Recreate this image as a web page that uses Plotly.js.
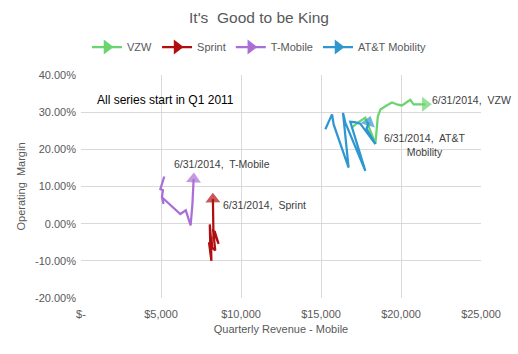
<!DOCTYPE html>
<html>
<head>
<meta charset="utf-8">
<script src="https://cdn.plot.ly/plotly-3.0.1.min.js"></script>
<style>html,body{margin:0;padding:0;background:#fff;}#chart{width:518px;height:354px;}</style>
</head>
<body>
<div id="chart"></div>
<script>
// Quarterly data, Q1 2011 .. Q2 2014 (revenue $M, operating margin)
const vzwRevenue = [16900, 17300, 17770, 18400, 18550, 18710, 19100, 19440, 19800, 20060, 20580, 20790, 21100, 21520];
const vzwMargin  = [0.258, 0.272, 0.285, 0.215, 0.288, 0.307, 0.318, 0.326, 0.320, 0.318, 0.333, 0.321, 0.321, 0.321];

const sprintRevenue = [8150, 8200, 8000, 8080, 8150, 8120, 8050, 8080, 8390, 8250, 8600, 8350, 8280, 8244];
const sprintMargin  = [-0.035, -0.065, -0.050, -0.080, -0.100, -0.040, -0.002, -0.060, -0.072, -0.015, -0.054, -0.020, -0.035, 0.066];

const tmoRevenue = [5206, 4960, 5120, 5060, 5160, 5080, 5070, 5100, 5060, 6206, 6550, 6850, 6960, 7040];
const tmoMargin  = [0.127, 0.093, 0.090, 0.071, 0.053, 0.070, 0.072, 0.068, 0.071, 0.026, 0.036, -0.005, 0.050, 0.120];

const attRevenue = [15270, 15690, 15790, 16725, 16375, 16450, 16520, 17770, 16830, 17100, 17456, 18400, 17850, 17975];
const attMargin  = [0.254, 0.294, 0.267, 0.151, 0.298, 0.285, 0.272, 0.142, 0.274, 0.273, 0.269, 0.214, 0.255, 0.273];

const seriesNames = ['VZW', 'Sprint', 'T-Mobile', 'AT&T Mobility'];
const seriesColors = ['#6ad46f', '#b00f0f', '#aa6fd6', '#2f97d0'];
const yTickVals = [-0.2, -0.1, 0, 0.1, 0.2, 0.3, 0.4];
const yTickText = ['-20.00%', '-10.00%', '0.00%', '10.00%', '20.00%', '30.00%', '40.00%'];
const xTickVals = [0, 5000, 10000, 15000, 20000, 25000];
const xTickText = ['$-', '$5,000', '$10,000', '$15,000', '$20,000', '$25,000'];

const data = [[vzwRevenue, vzwMargin], [sprintRevenue, sprintMargin], [tmoRevenue, tmoMargin], [attRevenue, attMargin]];

const traces = [];
data.forEach((d, i) => {
  const n = d[0].length;
  traces.push({
    x: d[0], y: d[1], type: 'scatter', mode: 'lines+markers', showlegend: false,
    line: {color: seriesColors[i], width: 2.25},
    marker: {
      color: seriesColors[i],
      symbol: d[0].map((_, k) => k === n - 1 ? 'triangle-up' : 'circle'),
      size: d[0].map((_, k) => k === n - 1 ? 13 : 0),
      angleref: 'previous',
      line: {width: 0}
    },
    hoverinfo: 'skip'
  });
});
// legend entries
seriesNames.forEach((name, i) => {
  traces.push({
    x: [null], y: [null], type: 'scatter', mode: 'lines+markers', name: name,
    line: {color: seriesColors[i], width: 2.25},
    marker: {color: seriesColors[i], symbol: 'triangle-right', size: 13}
  });
});

const labelFont = {family: 'Liberation Sans, Arial, sans-serif', size: 10.5, color: '#404040'};

const layout = {
  width: 518, height: 354,
  margin: {l: 81, r: 37, t: 75, b: 56},
  paper_bgcolor: '#ffffff', plot_bgcolor: '#ffffff',
  font: {family: 'Liberation Sans, Arial, sans-serif', color: '#595959', size: 11},
  title: {text: "It's  Good to be King", x: 0.5, xref: 'container', y: 1 - 18/354, yref: 'container', yanchor: 'middle',
          font: {size: 15.5, color: '#595959'}},
  showlegend: true,
  legend: {orientation: 'h', xref: 'container', x: 0.5, xanchor: 'center', yref: 'container', y: 1 - 47/354, yanchor: 'middle',
           font: {size: 11, color: '#595959'}, itemwidth: 30, traceorder: 'normal'},
  xaxis: {
    range: [0, 25000], tickvals: xTickVals, ticktext: xTickText,
    showgrid: true, gridcolor: '#d9d9d9', gridwidth: 1, zeroline: false, showline: false,
    ticks: '', tickfont: {size: 11, color: '#595959'}, ticklabelstandoff: 8,
    title: {text: 'Quarterly Revenue - Mobile', font: {size: 11, color: '#595959'}, standoff: 6}
  },
  yaxis: {
    range: [-0.2, 0.4], tickvals: yTickVals, ticktext: yTickText,
    showgrid: true, gridcolor: '#d9d9d9', gridwidth: 1, zeroline: false, showline: false,
    ticks: '', tickfont: {size: 11, color: '#595959'}, ticklabelstandoff: 4,
    title: {text: 'Operating  Margin', font: {size: 11, color: '#595959'}, standoff: 7}
  },
  annotations: [
    {x: 890, y: 0.332, xref: 'x', yref: 'y', xanchor: 'left', yanchor: 'middle', showarrow: false,
     text: 'All series start in Q1 2011', font: {family: 'Liberation Sans, Arial, sans-serif', size: 12, color: '#000000'}},
    {x: 21830, y: 0.332, xref: 'x', yref: 'y', xanchor: 'left', yanchor: 'middle', showarrow: false,
     text: '6/31/2014,  VZW', font: labelFont},
    {x: 5706, y: 0.161, xref: 'x', yref: 'y', xanchor: 'left', yanchor: 'middle', showarrow: false,
     text: '6/31/2014,  T-Mobile', font: labelFont},
    {x: 8770, y: 0.051, xref: 'x', yref: 'y', xanchor: 'left', yanchor: 'middle', showarrow: false,
     text: '6/31/2014,  Sprint', font: labelFont},
    {x: 21520, y: 0.212, xref: 'x', yref: 'y', xanchor: 'center', yanchor: 'middle', showarrow: false, align: 'center',
     text: '6/31/2014,  AT&amp;T<br>Mobility', font: labelFont}
  ]
};

Plotly.newPlot('chart', traces, layout, {displayModeBar: false, staticPlot: true});
</script>
</body>
</html>
